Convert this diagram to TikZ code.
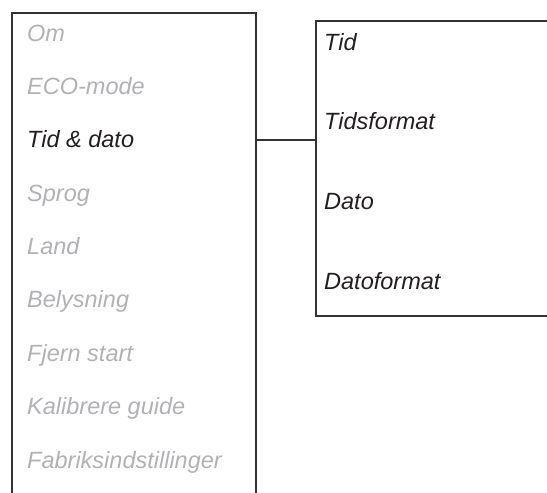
\documentclass[tikz,border=0pt]{standalone}
\usepackage{fontspec}
\setmainfont{Liberation Sans}
\definecolor{inact}{HTML}{B2B2B6}
\definecolor{act}{HTML}{231F20}
\definecolor{frame}{HTML}{333333}
\begin{document}
\begin{tikzpicture}[x=1pt,y=-1pt,
  item/.style={anchor=base west,inner sep=0pt,font=\fontsize{23.5}{28}\selectfont\itshape},
  off/.style={item,text=inact},
  on/.style={item,text=act},
  frameline/.style={draw=frame,line width=1.1pt}]
\useasboundingbox (0,0) rectangle (547,493);
% left menu box (open at the bottom)
\draw[frameline] (12,493) -- (12,13) -- (256,13) -- (256,493);
% right submenu box (open at the right)
\draw[frameline] (547,21) -- (316,21) -- (316,316) -- (547,316);
% left items
\node[off] (om)   at (27,41) {Om};
\node[off] (eco)  at (27,94.4) {ECO-mode};
\node[on]  (tid)  at (27,147.8) {Tid \& dato};
\node[off] (spr)  at (27,201.1) {Sprog};
\node[off] (land) at (27,254.5) {Land};
\node[off] (bel)  at (27,307.9) {Belysning};
\node[off] (fj)   at (27,361.3) {Fjern start};
\node[off] (kal)  at (27,414.6) {Kalibrere guide};
\node[off] (fab)  at (27,468) {Fabriksindstillinger};
% right items
\node[on] (r1) at (324,50) {Tid};
\node[on] (r2) at (324,129.7) {Tidsformat};
\node[on] (r3) at (324,209.3) {Dato};
\node[on] (r4) at (324,289) {Datoformat};
% connector
\coordinate (lout) at (256,140);
\coordinate (rin) at (316,140);
\draw[frameline] (lout) -- (rin);
\end{tikzpicture}
\end{document}
